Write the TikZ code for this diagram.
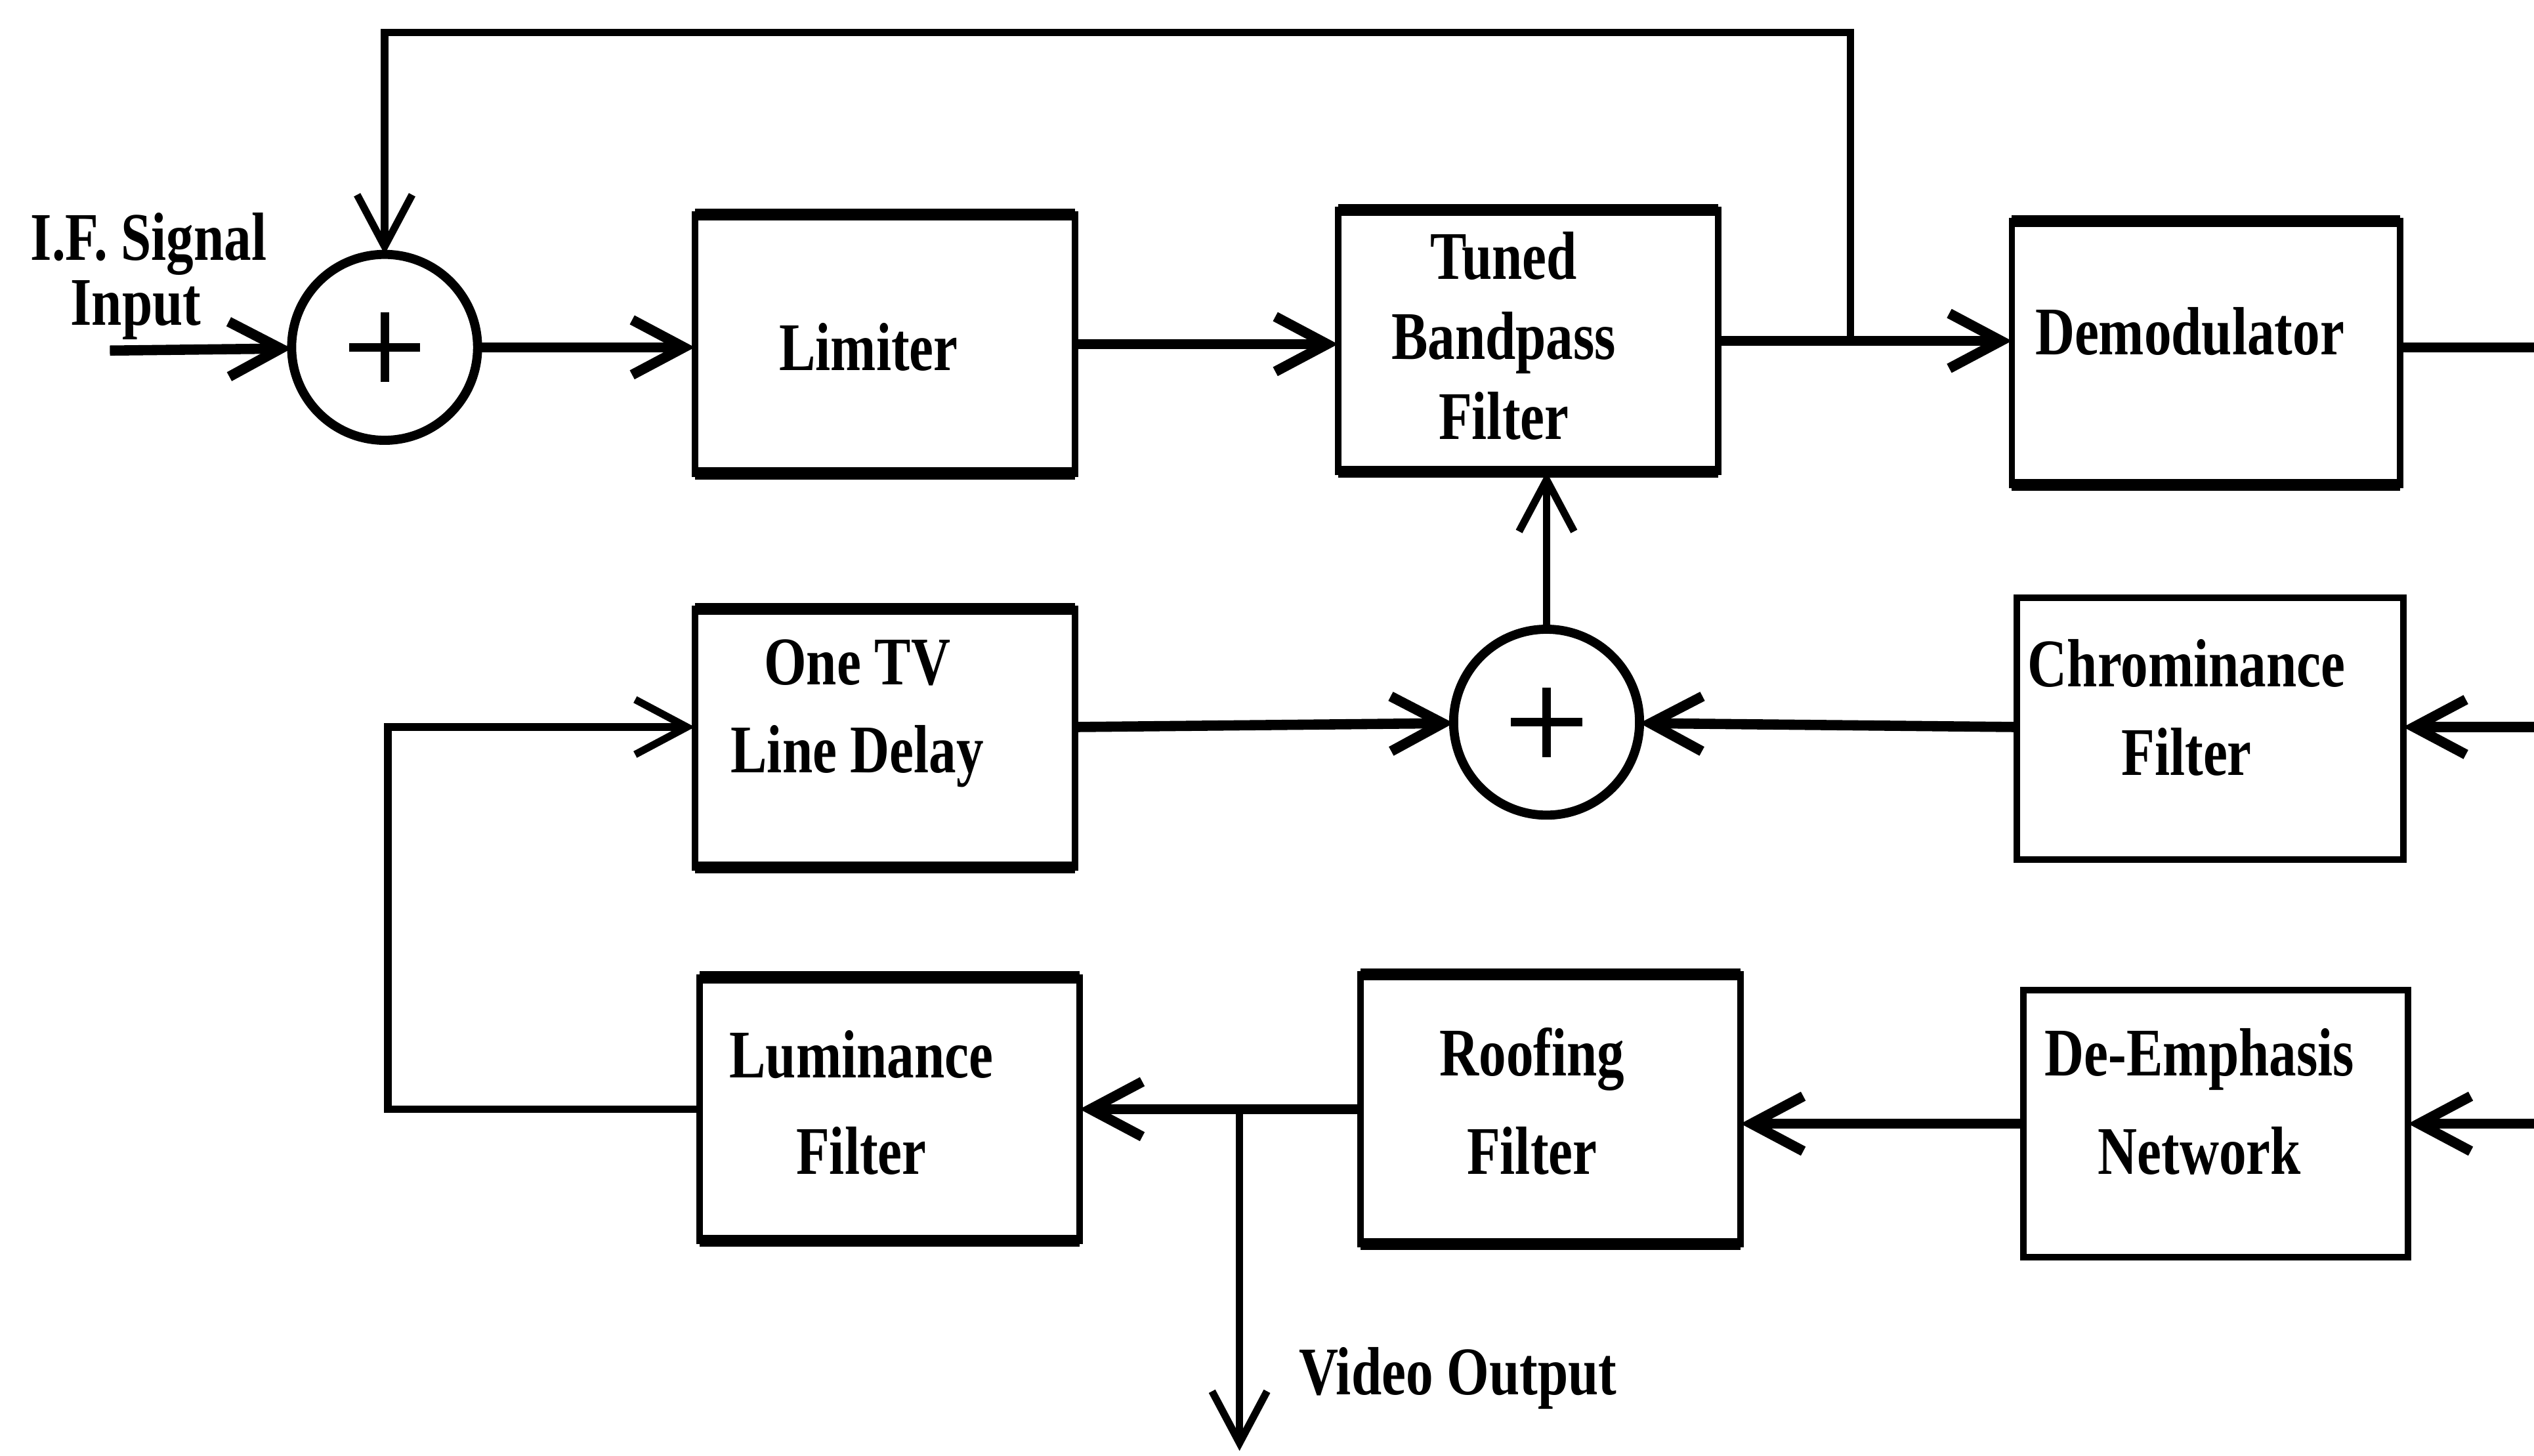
\documentclass[tikz,border=0pt]{standalone}
\usepackage{fontspec}
\setmainfont{Liberation Serif}[FakeStretch=0.8]
\usetikzlibrary{arrows.meta,calc}
\begin{document}
\begin{tikzpicture}[x=0.01cm,y=-0.01cm,
  box/.style={draw, line width=1.15pt, inner sep=0pt, outer sep=0pt},
  hed/.style={line width=2.1pt},
  conn/.style={line width=1.8pt},
  fb/.style={line width=1.3pt},
  arr/.style={-{Straight Barb[length=0.32cm,width=0.34cm]}},
  sum/.style={circle, draw, line width=1.6pt, minimum size=1.15cm, inner sep=0pt, outer sep=0pt,
    path picture={\draw[line width=1.5pt] (path picture bounding box.center) +(-0.22cm,0) -- +(0.22cm,0) +(0,-0.215cm) -- +(0,0.215cm);}},
  lbl/.style={font=\fontsize{12}{15.5}\selectfont\bfseries, align=center, inner sep=0pt}
]
\fill[white] (0,0) rectangle (1568,901);
\useasboundingbox (0,0) rectangle (1568,901);

% nodes
\node[sum] (s1) at (238,215) {};
\node[box, minimum width=2.35cm, minimum height=1.60cm,
  label={[lbl, xshift=-0.10cm, yshift=-0.02cm]center:Limiter}] (lim) at (547.5,213) {};
\node[box, minimum width=2.35cm, minimum height=1.62cm,
  label={[lbl, xshift=-0.15cm, yshift=0.03cm]center:Tuned\\[-1.4pt]Bandpass\\[-1.4pt]Filter}] (tbf) at (945.5,211) {};
\node[box, minimum width=2.40cm, minimum height=1.63cm,
  label={[lbl, xshift=-0.10cm, yshift=0.135cm]center:Demodulator}] (demod) at (1365,218.5) {};
\node[box, minimum width=2.35cm, minimum height=1.60cm,
  label={[lbl, xshift=-0.17cm, yshift=0.155cm]center:One TV\\Line Delay}] (onetv) at (547.5,457) {};
\node[sum] (s2) at (957,447) {};
\node[box, minimum width=2.39cm, minimum height=1.62cm,
  label={[lbl, xshift=-0.145cm, yshift=0.13cm]center:Chrominance\\Filter}] (chrom) at (1367.5,451) {};
\node[box, minimum width=2.35cm, minimum height=1.63cm,
  label={[lbl, xshift=-0.175cm, yshift=0.04cm]center:Luminance\\[1.5pt]Filter}] (lum) at (550.5,686.5) {};
\node[box, minimum width=2.35cm, minimum height=1.67cm,
  label={[lbl, xshift=-0.115cm, yshift=0.05cm]center:Roofing\\[1.8pt]Filter}] (roof) at (959.5,686.5) {};
\node[box, minimum width=2.38cm, minimum height=1.65cm,
  label={[lbl, xshift=-0.10cm, yshift=0.135cm]center:De-Emphasis\\[1.8pt]Network}] (deemph) at (1371,695.5) {};

\foreach \n in {lim,tbf,demod,onetv,lum,roof}
  \draw[hed] (\n.north west) -- (\n.north east) (\n.south west) -- (\n.south east);

% text labels
\node[lbl, font=\fontsize{12}{9}\selectfont\bfseries] (inlab) at (92,171) {I.F. Signal\\\hspace*{-0.16cm}Input};
\node[lbl, anchor=west] (vlab) at (803,853) {Video Output};

% coordinates
\coordinate (in) at (68,217);
\coordinate (j1) at (1145,211);
\coordinate (t1) at (1145,20);
\coordinate (t2) at (238,20);
\coordinate (r1) at (1568,215);
\coordinate (r2) at (1568,450);
\coordinate (r3) at (1568,695.5);
\coordinate (lp) at (240,450);
\coordinate (j2) at (767,687);
\coordinate (vo) at (767,898);

% connectors
\draw[conn, arr] (in) -- (s1);
\draw[conn, arr] (s1) -- (s1 -| lim.west);
\draw[conn, arr] (lim.east) -- (lim.east -| tbf.west);
\draw[conn, arr] (tbf.east) -- (tbf.east -| demod.west);
\draw[fb, arr] (j1) -- (t1) -- (t2) -- (s1);
\draw[conn] (demod.east |- r1) -- (r1);
\draw[conn, arr] (r2) -- (r2 -| chrom.east);
\draw[conn, arr] (chrom.west |- r2) -- (s2);
\draw[conn, arr] (onetv.east |- lp) -- (s2);
\draw[fb, arr] (s2) -- (s2 |- tbf.south);
\draw[conn, arr] (r3) -- (deemph.east);
\draw[conn, arr] (deemph.west) -- (deemph.west -| roof.east);
\draw[conn, arr] (roof.west) -- (roof.west -| lum.east);
\draw[fb, arr] (lum.west) -| (lp) -- (lp -| onetv.west);
\draw[fb, arr] (j2) -- (vo);
\end{tikzpicture}
\end{document}
